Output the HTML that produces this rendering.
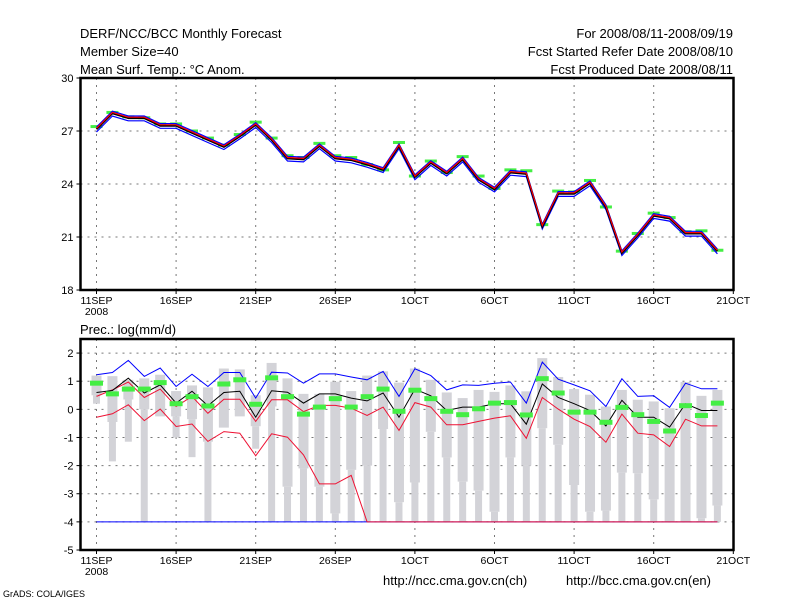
<!DOCTYPE html>
<html><head><meta charset="utf-8"><style>
html,body{margin:0;padding:0;background:#fff;}
svg{display:block;font-family:"Liberation Sans",sans-serif;}
</style></head><body>
<svg id="chart" width="800" height="600" viewBox="0 0 800 600">
<g font-size="13" fill="#000">
<text x="80" y="38">DERF/NCC/BCC Monthly Forecast</text>
<text x="80" y="56">Member Size=40</text>
<text x="80" y="74">Mean Surf. Temp.: °C Anom.</text>
</g>
<g font-size="13" fill="#000" text-anchor="end">
<text x="733" y="38">For 2008/08/11-2008/09/19</text>
<text x="733" y="56">Fcst Started Refer Date 2008/08/10</text>
<text x="733" y="74">Fcst Produced Date 2008/08/11</text>
</g>
<text x="80" y="334" font-size="13">Prec.: log(mm/d)</text>
<text x="383" y="585" font-size="13">http://ncc.cma.gov.cn(ch)</text>
<text x="566" y="585" font-size="13">http://bcc.cma.gov.cn(en)</text>
<text x="3" y="597" font-size="9">GrADS: COLA/IGES</text>
<g id="topPanel"></g>
<g id="botPanel"></g>
</svg>
<script>
const dayLabels = ["11SEP","16SEP","21SEP","26SEP","1OCT","6OCT","11OCT","16OCT","21OCT"];
const tempTicks = [30,27,24,21,18];
const precTicks = [2,1,0,-1,-2,-3,-4,-5];
const tempMean = [27.1,28.0,27.73,27.73,27.3,27.3,26.9,26.5,26.1,26.7,27.35,26.5,25.45,25.4,26.15,25.45,25.35,25.1,24.8,26.15,24.4,25.2,24.6,25.4,24.25,23.7,24.65,24.57,21.6,23.45,23.45,24.05,22.7,20.1,21.1,22.2,22.05,21.2,21.2,20.2];
const tempObs = [27.25,28.05,27.8,27.75,27.4,27.4,27.0,26.6,26.2,26.8,27.5,26.6,25.6,25.5,26.3,25.6,25.5,25.1,24.8,26.35,24.45,25.3,24.65,25.55,24.45,23.75,24.8,24.75,21.7,23.6,23.55,24.2,22.7,20.2,21.2,22.35,22.1,21.3,21.35,20.25];
const precMax = [1.23,1.31,1.74,1.17,1.47,0.81,1.25,0.81,1.31,1.31,0.4,1.32,1.29,0.93,1.26,1.26,1.15,1.05,1.35,0.46,1.44,1.2,0.69,0.87,0.85,0.93,0.97,0.22,1.68,1.07,0.87,0.66,0.1,1.09,0.46,0.48,0.07,0.93,0.73,0.73];
const precMean = [0.6,0.67,1.11,0.58,0.87,0.22,0.64,0.13,0.6,0.64,-0.28,0.66,0.61,0.22,0.55,0.55,0.4,0.3,0.58,-0.28,0.72,0.48,-0.04,0.08,0.08,0.2,0.2,-0.53,0.9,0.42,0.2,-0.04,-0.59,0.32,-0.28,-0.28,-0.63,0.2,-0.04,-0.04];
const precUpper = [0.46,0.69,0.97,0.42,0.72,0.1,0.46,-0.14,0.36,0.36,-0.43,0.34,0.34,-0.08,0.14,0.14,0.04,-0.22,0.08,-0.75,0.24,0.08,-0.55,-0.55,-0.43,-0.31,-0.23,-1.03,0.42,0.01,-0.35,-0.61,-1.17,-0.17,-0.85,-0.91,-1.32,-0.35,-0.59,-0.59];
const precLower = [-0.28,-0.16,0.16,-0.4,0.01,-0.61,-0.52,-1.14,-0.79,-0.85,-1.65,-0.87,-0.99,-1.62,-2.65,-2.65,-2.35,-4,-4,-4,-4,-4,-4,-4,-4,-4,-4,-4,-4,-4,-4,-4,-4,-4,-4,-4,-4,-4,-4,-4];
const precMin = [-4,-4,-4,-4,-4,-4,-4,-4,-4,-4,-4,-4,-4,-4,-4,-4,-4,-4,-4,-4,-4,-4,-4,-4,-4,-4,-4,-4,-4,-4,-4,-4,-4,-4,-4,-4,-4,-4,-4,-4];
const boxTop = [1.2,1.18,1.05,1.1,1.23,0.65,0.85,0.78,1.45,1.42,0.5,1.65,1.1,0.55,0.55,0.98,0.65,1.2,1.35,0.95,1.45,1.05,0.6,0.4,0.69,0.62,0.85,0.64,1.82,1.15,0.72,0.52,0.1,0.69,0.34,0.28,0.04,0.97,0.48,0.69];
const boxBot = [0.5,-0.45,0.35,0.0,-0.25,-0.25,-0.35,-1.15,-0.65,-0.25,-0.6,0.1,-2.75,-2.1,-2.75,-3.7,-2.15,-2.0,-0.7,-3.3,-2.6,-0.8,-1.71,-2.57,-2.89,-3.64,-1.71,-2.0,-0.67,-1.26,-2.69,-3.64,-3.6,-2.25,-2.27,-3.2,-4,-4,-3.87,-3.42];
const whiskBot = [0.2,-1.85,-1.15,-4,-0.25,-1.0,-1.7,-4,-0.65,-0.25,-1.4,-4,-4,-4,-4,-4,-4,-4,-4,-4,-4,-4,-4,-4,-4,-4,-4,-4,-4,-4,-4,-4,-4,-4,-4,-4,-4,-4,-4,-4];
const precObs = [0.93,0.55,0.72,0.72,0.95,0.2,0.45,0.12,0.9,1.05,0.18,1.12,0.45,-0.17,0.08,0.38,0.08,0.45,0.72,-0.07,0.68,0.38,-0.07,-0.19,0.02,0.22,0.24,-0.2,1.09,0.58,-0.1,-0.1,-0.46,0.07,-0.19,-0.43,-0.77,0.13,-0.22,0.22];

const NS="http://www.w3.org/2000/svg";
const X0=80.5, X1=733.5;
const xDay = d => 96.5 + d*15.92;
const yTemp = v => 78 + (30 - v)*(212/12);
const yPrec = v => 339 + (2.5 - v)*(211/7.5);
function mk(parent, tag, attrs){const e=document.createElementNS(NS,tag);for(const k in attrs)e.setAttribute(k,attrs[k]);parent.appendChild(e);return e;}
function drawLine(parent, vals, yf, color, w, name){
  const p=mk(parent,'polyline',{points:vals.map((v,i)=>xDay(i).toFixed(1)+','+yf(v).toFixed(1)).join(' '),fill:'none',stroke:color,'stroke-width':w});
  
  
  return p;
}
function axes(g, yTop, yBot, ticks, yf, nameP){
  const grid=mk(g,'g',{});
  
  
  dayLabels.forEach((lab,k)=>{
    const x=xDay(k*5);
    if(k<dayLabels.length-1){mk(grid,'line',{x1:x,x2:x,y1:yTop,y2:yBot,stroke:'#777','stroke-dasharray':'2,5','stroke-width':1});}
    mk(grid,'line',{x1:x,x2:x,y1:yBot,y2:yBot+4,stroke:'#000'});
    const t=mk(g,'text',{x:x,y:yBot+14,'font-size':10.5,'text-anchor':'middle'});
    t.textContent=lab;
    
    
  });
  const yr=mk(g,'text',{x:xDay(0),y:yBot+25,'font-size':10.5,'text-anchor':'middle'});
  yr.textContent='2008';
  
  
  ticks.forEach(v=>{
    const y=yf(v);
    if(y>yTop+1&&y<yBot-1) mk(grid,'line',{x1:X0,x2:X1,y1:y,y2:y,stroke:'#777','stroke-dasharray':'2,5','stroke-width':1});
    mk(grid,'line',{x1:X0-4,x2:X0,y1:y,y2:y,stroke:'#000'});
    const t=mk(g,'text',{x:X0-7,y:y+4,'font-size':11,'text-anchor':'end'});
    t.textContent=v;
    
    
  });
}
function frame(g,yTop,yBot,name){
  const r=mk(g,'rect',{x:X0,y:yTop,width:X1-X0,height:yBot-yTop,fill:'none',stroke:'#000','stroke-width':2.5});
  
  
}
// Top panel
const topG=document.getElementById('topPanel');
axes(topG,78,290,tempTicks,yTemp,'temp');
const tg=mk(topG,'g',{});


tempObs.forEach((v,i)=>{const r=mk(tg,'rect',{x:xDay(i)-6,y:yTemp(v)-1.5,width:12,height:3,fill:'#44ee44'});
  
  });
drawLine(topG,tempMean.map(v=>v+0.12),yTemp,'#0000ff',1.2,'temp-upper-line');
drawLine(topG,tempMean.map(v=>v-0.15),yTemp,'#0000ff',1.2,'temp-lower-line');
drawLine(topG,tempMean,yTemp,'#000',2,'temp-mean-line');
drawLine(topG,tempMean.map(v=>v+0.05),yTemp,'#ff0000',1.2,'temp-median-line');
frame(topG,78,290,'temp-frame');
// Bottom panel
const botG=document.getElementById('botPanel');
axes(botG,339,550,precTicks,yPrec,'prec');
const bg=mk(botG,'g',{});


boxTop.forEach((v,i)=>{
  const x=xDay(i);
  const w=mk(bg,'rect',{x:x-3.5,y:yPrec(boxBot[i]),width:7,height:Math.max(0,yPrec(whiskBot[i])-yPrec(boxBot[i])),fill:'#d3d3d8'});
  
  
  const b=mk(bg,'rect',{x:x-5,y:yPrec(v),width:10,height:Math.max(0,yPrec(boxBot[i])-yPrec(v)),fill:'#d3d3d8'});
  
  
});
drawLine(botG,precMin,yPrec,'#0000ff',1,'prec-min-line');
drawLine(botG,precLower,yPrec,'#ee1133',1,'prec-lower-line');
drawLine(botG,precUpper,yPrec,'#ee1133',1,'prec-upper-line');
drawLine(botG,precMean,yPrec,'#000',1,'prec-mean-line');
drawLine(botG,precMax,yPrec,'#0000ff',1,'prec-max-line');
const og=mk(botG,'g',{});


precObs.forEach((v,i)=>{const r=mk(og,'rect',{x:xDay(i)-6.5,y:yPrec(v)-2.5,width:13,height:5,fill:'#44ee44'});
  
  });
frame(botG,339,550,'prec-frame');
</script>
</body></html>
